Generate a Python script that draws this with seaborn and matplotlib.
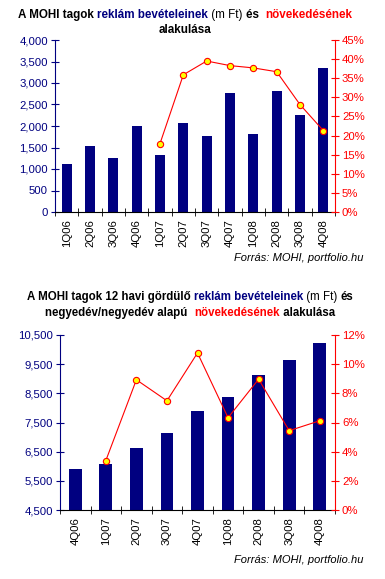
import numpy as np
import pandas as pd
import seaborn as sns
import matplotlib.pyplot as plt
from matplotlib.ticker import FuncFormatter, MultipleLocator, FixedLocator

# top chart: quarterly ad revenue (m Ft) and yoy growth
quarters1 = ['1Q06', '2Q06', '3Q06', '4Q06', '1Q07', '2Q07', '3Q07', '4Q07',
             '1Q08', '2Q08', '3Q08', '4Q08']
revenue1 = [1122, 1540, 1261, 2004, 1331, 2074, 1772, 2770, 1818, 2816, 2259, 3350]
growth1 = [17.9, 35.9, 39.5, 38.3, 37.7, 36.7, 28.1, 21.3]  # from 1Q07

# bottom chart: 12-month rolling revenue and q/q growth
quarters2 = ['4Q06', '1Q07', '2Q07', '3Q07', '4Q07', '1Q08', '2Q08', '3Q08', '4Q08']
revenue2 = [5912, 6083, 6629, 7141, 7893, 8371, 9123, 9635, 10216]
growth2 = [3.39, 8.93, 7.49, 10.77, 6.33, 8.97, 5.44, 6.12]  # from 1Q07

NAVY = '#000080'
RED = '#ff0000'

plt.rcParams['font.family'] = ['Liberation Sans', 'DejaVu Sans']

fig = plt.figure(figsize=(3.85, 5.79), dpi=100)
W, H = 385, 579


def rich_line(y, parts, size=8.3, cx=W / 2):
    # y is in pixels from the top of the figure
    r = fig.canvas.get_renderer()
    texts = []
    for s, c, w in parts:
        texts.append(fig.text(0, 1 - y / H, s, color=c, weight=w, fontsize=size,
                              va='baseline', ha='left'))
    widths = [t.get_window_extent(r).width for t in texts]
    x = cx - sum(widths) / 2
    for t, wd in zip(texts, widths):
        t.set_x(x / W)
        x += wd


def combo(rect, cats, revenue, growth, start, ylim, ystep, glim, gstep, bw):
    ax = fig.add_axes([rect[0] / W, 1 - rect[3] / H, (rect[2] - rect[0]) / W,
                       (rect[3] - rect[1]) / H])
    df = pd.DataFrame({'q': cats, 'rev': revenue})
    sns.barplot(data=df, x='q', y='rev', color=NAVY, saturation=1, width=bw,
                ax=ax, zorder=2)
    ax.set_xlim(-0.5, len(cats) - 0.5)
    ax.set_ylim(*ylim)
    ax.yaxis.set_major_locator(FixedLocator(np.arange(ylim[0], ylim[1] + 1, ystep)))
    ax.yaxis.set_major_formatter(FuncFormatter(lambda v, p: f'{v:,.0f}'))
    ax.set_xlabel('')
    ax.set_ylabel('')
    ax.set_xticks(np.arange(len(cats)))
    ax.set_xticklabels(cats, rotation=90, fontsize=8.2)
    ax.xaxis.set_minor_locator(FixedLocator(np.arange(len(cats) + 1) - 0.5))
    ax.tick_params(axis='x', which='major', length=0, pad=5)
    ax.tick_params(axis='x', which='minor', length=6, direction='inout', color='black')
    ax.tick_params(axis='y', colors=NAVY, labelsize=8.2, length=6, direction='inout', pad=2)
    for s in ['top', 'right']:
        ax.spines[s].set_visible(False)
    ax.spines['left'].set_color(NAVY)
    ax.spines['bottom'].set_color('black')

    ax2 = ax.twinx()
    xs = np.arange(len(cats))[start:]
    sns.lineplot(x=xs, y=growth, ax=ax2, color=RED, lw=0.8, marker='o', markersize=4.5,
                 markerfacecolor='#ffff00', markeredgecolor=RED, markeredgewidth=0.8)
    ax2.set_ylim(*glim)
    ax2.yaxis.set_major_locator(MultipleLocator(gstep))
    ax2.yaxis.set_major_formatter(FuncFormatter(lambda v, p: f'{v:.0f}%'))
    ax2.tick_params(axis='y', colors=RED, labelsize=8.2, length=6, direction='inout', pad=2)
    for s in ['top', 'left', 'bottom']:
        ax2.spines[s].set_visible(False)
    ax2.spines['right'].set_color(RED)
    ax2.set_xlim(-0.5, len(cats) - 0.5)
    return ax, ax2


combo((55, 40, 335, 212), quarters1, revenue1, growth1, 4, (0, 4000), 500,
      (0, 45), 5, 0.42)
combo((60, 335, 335, 510), quarters2, revenue2, growth2, 1, (4500, 10500), 1000,
      (0, 12), 2, 0.42)

rich_line(18, [('A MOHI tagok ', 'black', 'bold'), ('reklám bevételeinek', NAVY, 'bold'),
               (' (m Ft) ', 'black', 'normal'), ('és  ', 'black', 'bold'),
               ('növekedésének', RED, 'bold')], size=8.4, cx=185)
rich_line(33, [('alakulása', 'black', 'bold')], size=8.4, cx=185)
rich_line(300, [('A MOHI tagok 12 havi gördülő ', 'black', 'bold'),
                ('reklám bevételeinek', NAVY, 'bold'),
                (' (m Ft) ', 'black', 'normal'), ('és', 'black', 'bold')], cx=190)
rich_line(316, [('negyedév/negyedév alapú  ', 'black', 'bold'),
                ('növekedésének', RED, 'bold'), (' alakulása', 'black', 'bold')], cx=190)

fig.text(363 / W, 1 - 261 / H, 'Forrás: MOHI, portfolio.hu', ha='right',
         style='italic', fontsize=8)
fig.text(363 / W, 1 - 563 / H, 'Forrás: MOHI, portfolio.hu', ha='right',
         style='italic', fontsize=8)

fig.savefig('out.png', dpi=100, facecolor='white')
